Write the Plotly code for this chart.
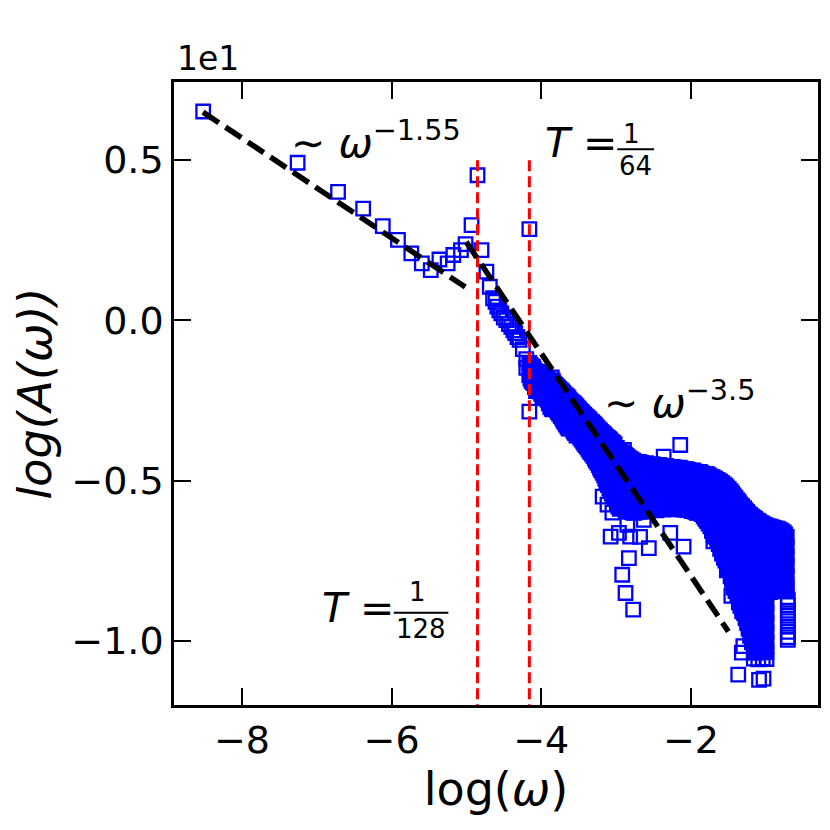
import plotly.graph_objects as go

# ---------------- data (y shown in units of 1e1) ----------------
low_x = [-8.518, -7.256, -6.716, -6.380, -6.118, -5.915, -5.737, -5.596, -5.477, -5.361,
         -5.251, -5.175, -5.073, -5.012, -4.932, -4.852, -4.799, -4.733, -4.688, -4.644,
         -4.612, -4.587, -4.561, -4.534, -4.501, -4.467, -4.432, -4.401, -4.372, -4.348,
         -4.318, -4.290, -4.246, -4.159, -4.159, -4.113]
low_y = [0.652, 0.492, 0.401, 0.349, 0.294, 0.251, 0.209, 0.178, 0.157, 0.190,
         0.178, 0.204, 0.219, 0.238, 0.297, 0.453, 0.219, 0.152, 0.105, 0.069,
         0.058, 0.043, 0.031, 0.022, 0.009, 0.001, -0.012, -0.020, -0.031, -0.040,
         -0.052, -0.061, -0.090, 0.285, -0.285, -0.145]

band_x = [-4.20, -4.16, -4.13, -4.10, -4.07, -4.04, -4.00, -3.97, -3.93, -3.90, -3.86, -3.83,
          -3.79, -3.76, -3.72, -3.69, -3.65, -3.62, -3.58, -3.55, -3.51, -3.48, -3.44, -3.41,
          -3.37, -3.34, -3.30, -3.27, -3.23, -3.20, -3.16, -3.13, -3.09, -3.06, -3.02]
band_y = [
    [-0.121, -0.148], [-0.133, -0.171], [-0.142, -0.166, -0.189], [-0.152, -0.178, -0.196],
    [-0.168, -0.205, -0.221], [-0.160, -0.187, -0.214], [-0.174, -0.198, -0.229],
    [-0.169, -0.212, -0.243], [-0.183, -0.204, -0.236], [-0.191, -0.226, -0.259],
    [-0.178, -0.214, -0.247, -0.276], [-0.197, -0.238, -0.265], [-0.206, -0.231, -0.281],
    [-0.214, -0.252, -0.292], [-0.222, -0.247, -0.276, -0.305], [-0.231, -0.268, -0.318],
    [-0.238, -0.262, -0.297, -0.332], [-0.249, -0.283, -0.321], [-0.257, -0.299, -0.341],
    [-0.263, -0.291, -0.318, -0.352], [-0.274, -0.309, -0.347], [-0.282, -0.321, -0.366],
    [-0.291, -0.318, -0.343, -0.378], [-0.299, -0.337, -0.389], [-0.306, -0.348, -0.372, -0.401],
    [-0.315, -0.359, -0.412], [-0.322, -0.351, -0.381, -0.424], [-0.331, -0.368, -0.403, -0.438],
    [-0.340, -0.379, -0.416, -0.452], [-0.348, -0.392, -0.431, -0.467],
    [-0.356, -0.384, -0.418, -0.449, -0.484], [-0.364, -0.402, -0.439, -0.472, -0.503],
    [-0.371, -0.411, -0.451, -0.489, -0.524], [-0.379, -0.423, -0.462, -0.501, -0.541],
    [-0.386, -0.419, -0.447, -0.478, -0.516, -0.556],
]

band2_x = [-4.145, -4.115, -4.085, -4.055, -4.02, -3.985, -3.95, -3.915, -3.88, -3.845, -3.81,
           -3.775, -3.74, -3.705, -3.67, -3.635, -3.60, -3.565, -3.53, -3.495, -3.46, -3.425,
           -3.39, -3.355, -3.32, -3.285, -3.25, -3.215, -3.18, -3.145, -3.11, -3.075, -3.04]
band2_y = [
    [-0.139, -0.160, -0.182], [-0.147, -0.172, -0.193], [-0.158, -0.183, -0.208],
    [-0.163, -0.194, -0.219], [-0.167, -0.193, -0.222], [-0.171, -0.205, -0.236],
    [-0.176, -0.209, -0.240], [-0.186, -0.215, -0.248], [-0.187, -0.220, -0.254, -0.270],
    [-0.188, -0.226, -0.258, -0.278], [-0.201, -0.235, -0.272], [-0.210, -0.243, -0.286],
    [-0.218, -0.250, -0.284, -0.299], [-0.226, -0.258, -0.292, -0.312],
    [-0.234, -0.265, -0.299, -0.325], [-0.243, -0.273, -0.309, -0.338],
    [-0.253, -0.291, -0.331], [-0.260, -0.295, -0.329, -0.347], [-0.268, -0.300, -0.333, -0.360],
    [-0.278, -0.315, -0.356], [-0.286, -0.320, -0.354, -0.372], [-0.295, -0.328, -0.362, -0.384],
    [-0.302, -0.342, -0.380, -0.395], [-0.310, -0.353, -0.392, -0.407],
    [-0.318, -0.355, -0.398, -0.418], [-0.326, -0.360, -0.395, -0.431],
    [-0.335, -0.373, -0.410, -0.445], [-0.344, -0.385, -0.424, -0.460],
    [-0.352, -0.388, -0.424, -0.458, -0.476], [-0.360, -0.393, -0.428, -0.461, -0.494],
    [-0.367, -0.406, -0.445, -0.480, -0.514], [-0.375, -0.417, -0.456, -0.495, -0.532],
    [-0.382, -0.421, -0.455, -0.490, -0.528, -0.549],
]

cluster_x = [-2.99, -2.95, -2.90, -2.86, -2.82, -2.77, -2.73, -2.69, -2.64, -2.60, -2.55, -2.51,
             -2.46, -2.42, -2.37, -2.33, -2.28, -2.24, -2.19, -2.15, -2.10, -2.06, -2.01, -1.97,
             -1.92, -1.88, -1.83, -1.79, -1.74, -1.70, -1.65, -1.61, -1.56, -1.52, -1.47, -1.43,
             -1.38, -1.34, -1.29, -1.25, -1.21, -1.16, -1.12, -1.07, -1.03, -0.99, -0.94, -0.90,
             -0.85, -0.81, -0.76, -0.72, -0.705]
cluster_y = [
    [-0.398, -0.426, -0.455, -0.487, -0.514, -0.549, -0.573],
    [-0.409, -0.441, -0.468, -0.495, -0.528, -0.561, -0.588],
    [-0.415, -0.437, -0.462, -0.491, -0.522, -0.547, -0.579],
    [-0.423, -0.452, -0.481, -0.508, -0.535, -0.566, -0.594],
    [-0.431, -0.458, -0.476, -0.502, -0.531, -0.557, -0.589],
    [-0.438, -0.466, -0.493, -0.519, -0.548, -0.576, -0.601],
    [-0.444, -0.471, -0.497, -0.525, -0.553, -0.584],
    [-0.442, -0.463, -0.489, -0.516, -0.542, -0.571, -0.598],
    [-0.448, -0.477, -0.503, -0.529, -0.558, -0.587],
    [-0.446, -0.469, -0.494, -0.521, -0.547, -0.574, -0.596],
    [-0.452, -0.481, -0.507, -0.533, -0.562, -0.589],
    [-0.449, -0.473, -0.498, -0.526, -0.551, -0.579],
    [-0.455, -0.484, -0.511, -0.538, -0.566, -0.593],
    [-0.451, -0.476, -0.502, -0.529, -0.554, -0.581],
    [-0.458, -0.487, -0.514, -0.541, -0.569, -0.591],
    [-0.454, -0.479, -0.505, -0.532, -0.557, -0.584],
    [-0.461, -0.489, -0.516, -0.543, -0.571, -0.589],
    [-0.457, -0.482, -0.508, -0.535, -0.561, -0.586],
    [-0.463, -0.492, -0.519, -0.546, -0.574],
    [-0.460, -0.485, -0.511, -0.538, -0.563, -0.588],
    [-0.466, -0.494, -0.522, -0.549, -0.577],
    [-0.464, -0.488, -0.514, -0.541, -0.566, -0.591],
    [-0.470, -0.497, -0.525, -0.552, -0.579],
    [-0.468, -0.491, -0.518, -0.544, -0.569, -0.594],
    [-0.476, -0.502, -0.529, -0.556, -0.583, -0.601],
    [-0.473, -0.497, -0.522, -0.548, -0.574, -0.598],
    [-0.481, -0.508, -0.535, -0.561, -0.588, -0.612],
    [-0.479, -0.503, -0.528, -0.554, -0.579, -0.604, -0.626],
    [-0.487, -0.514, -0.541, -0.567, -0.594, -0.621, -0.643],
    [-0.491, -0.517, -0.543, -0.569, -0.596, -0.622, -0.648, -0.669],
    [-0.498, -0.524, -0.551, -0.578, -0.604, -0.631, -0.657, -0.682],
    [-0.503, -0.529, -0.556, -0.582, -0.609, -0.636, -0.662, -0.689, -0.713],
    [-0.512, -0.538, -0.565, -0.591, -0.618, -0.645, -0.671, -0.698, -0.724, -0.741],
    [-0.521, -0.547, -0.574, -0.601, -0.627, -0.654, -0.681, -0.707, -0.734, -0.758],
    [-0.533, -0.561, -0.592, -0.620, -0.651, -0.679, -0.711, -0.740, -0.768, -0.799],
    [-0.546, -0.575, -0.604, -0.636, -0.664, -0.695, -0.723, -0.756, -0.786, -0.812, -0.834],
    [-0.561, -0.590, -0.621, -0.649, -0.681, -0.709, -0.741, -0.770, -0.801, -0.829, -0.857],
    [-0.574, -0.603, -0.635, -0.662, -0.694, -0.723, -0.754, -0.783, -0.815, -0.843, -0.872, -0.891],
    [-0.586, -0.616, -0.647, -0.675, -0.706, -0.737, -0.766, -0.797, -0.826, -0.857, -0.886, -0.914],
    [-0.598, -0.628, -0.659, -0.688, -0.719, -0.748, -0.779, -0.808, -0.839, -0.869, -0.898, -0.929, -0.944],
    [-0.607, -0.636, -0.668, -0.697, -0.727, -0.758, -0.787, -0.818, -0.847, -0.878, -0.907, -0.938, -0.967, -0.985],
    [-0.616, -0.646, -0.677, -0.706, -0.737, -0.766, -0.797, -0.827, -0.858, -0.887, -0.918, -0.947, -0.978, -1.008, -1.034],
    [-0.624, -0.653, -0.684, -0.714, -0.745, -0.774, -0.805, -0.834, -0.865, -0.895, -0.926, -0.955, -0.986, -1.015, -1.037],
    [-0.631, -0.661, -0.692, -0.721, -0.752, -0.782, -0.813, -0.842, -0.873, -0.902, -0.933, -0.963, -0.994, -1.023, -1.036],
    [-0.637, -0.667, -0.697, -0.727, -0.757, -0.788, -0.818, -0.848, -0.879, -0.908, -0.939, -0.969, -0.999, -1.029],
    [-0.641, -0.671, -0.702, -0.731, -0.762, -0.792, -0.823, -0.852, -0.883, -0.913, -0.944, -0.974, -1.004, -1.033],
    [-0.644, -0.674, -0.705, -0.734, -0.765, -0.795, -0.826, -0.848],
    [-0.647, -0.677, -0.708, -0.737, -0.768, -0.798, -0.829, -0.845],
    [-0.650, -0.680, -0.711, -0.740, -0.771, -0.801, -0.832, -0.842],
    [-0.655, -0.685, -0.716, -0.745, -0.776, -0.806, -0.837],
    [-0.662, -0.692, -0.723, -0.752, -0.783, -0.813, -0.840],
    [-0.676, -0.706, -0.737, -0.766, -0.797, -0.827, -0.843],
    [-0.872, -0.889, -0.906, -0.922, -0.939, -0.956, -0.972, -0.989, -0.997],
]

cluster2_x = [-2.97, -2.925, -2.88, -2.84, -2.795, -2.75, -2.71, -2.665, -2.62, -2.575, -2.53,
              -2.485, -2.44, -2.395, -2.35, -2.305, -2.26, -2.215, -2.17, -2.125, -2.08, -2.035,
              -1.99, -1.945, -1.90, -1.855, -1.81, -1.765, -1.72, -1.675, -1.63, -1.585, -1.54,
              -1.495, -1.45, -1.405, -1.36, -1.315, -1.27, -1.23, -1.185, -1.14, -1.095, -1.05,
              -1.01, -0.965, -0.92, -0.875, -0.83, -0.785, -0.74]
cluster2_y = [
    [-0.404, -0.433, -0.462, -0.492, -0.521, -0.553, -0.581],
    [-0.412, -0.440, -0.471, -0.500, -0.530, -0.562, -0.585],
    [-0.420, -0.446, -0.474, -0.503, -0.533, -0.560, -0.590],
    [-0.428, -0.456, -0.485, -0.514, -0.543, -0.572, -0.597],
    [-0.434, -0.462, -0.490, -0.517, -0.546, -0.574, -0.598],
    [-0.441, -0.468, -0.495, -0.523, -0.551, -0.579, -0.600],
    [-0.446, -0.475, -0.505, -0.533, -0.560, -0.590],
    [-0.445, -0.470, -0.497, -0.523, -0.550, -0.578, -0.597],
    [-0.449, -0.474, -0.500, -0.526, -0.553, -0.581, -0.595],
    [-0.450, -0.476, -0.502, -0.529, -0.556, -0.583, -0.594],
    [-0.451, -0.478, -0.504, -0.531, -0.558, -0.585],
    [-0.453, -0.479, -0.506, -0.532, -0.559, -0.587],
    [-0.454, -0.481, -0.507, -0.534, -0.561, -0.588],
    [-0.455, -0.482, -0.509, -0.535, -0.562, -0.589],
    [-0.457, -0.484, -0.510, -0.537, -0.564, -0.588],
    [-0.458, -0.485, -0.512, -0.538, -0.565, -0.589],
    [-0.459, -0.486, -0.513, -0.540, -0.566, -0.588],
    [-0.460, -0.488, -0.514, -0.541, -0.568, -0.589],
    [-0.462, -0.489, -0.516, -0.543, -0.569, -0.590],
    [-0.463, -0.490, -0.517, -0.544, -0.571, -0.590],
    [-0.465, -0.491, -0.518, -0.545, -0.572, -0.591],
    [-0.467, -0.493, -0.520, -0.547, -0.574, -0.592],
    [-0.469, -0.495, -0.522, -0.548, -0.575, -0.595],
    [-0.472, -0.498, -0.525, -0.551, -0.578, -0.598],
    [-0.475, -0.500, -0.526, -0.552, -0.578, -0.600],
    [-0.477, -0.503, -0.530, -0.556, -0.582, -0.605],
    [-0.480, -0.506, -0.532, -0.558, -0.585, -0.609, -0.619],
    [-0.483, -0.509, -0.535, -0.561, -0.588, -0.613, -0.634],
    [-0.489, -0.515, -0.542, -0.568, -0.595, -0.621, -0.645, -0.657],
    [-0.494, -0.521, -0.547, -0.574, -0.600, -0.627, -0.652, -0.675],
    [-0.500, -0.527, -0.553, -0.580, -0.606, -0.633, -0.659, -0.686, -0.698],
    [-0.507, -0.534, -0.560, -0.587, -0.613, -0.640, -0.666, -0.693, -0.718, -0.728],
    [-0.516, -0.543, -0.569, -0.596, -0.622, -0.649, -0.676, -0.702, -0.729, -0.750],
    [-0.527, -0.553, -0.580, -0.607, -0.633, -0.660, -0.687, -0.713, -0.740, -0.766, -0.779],
    [-0.540, -0.566, -0.593, -0.619, -0.646, -0.672, -0.699, -0.726, -0.752, -0.779, -0.805, -0.818],
    [-0.553, -0.580, -0.606, -0.633, -0.659, -0.686, -0.712, -0.739, -0.766, -0.792, -0.819, -0.845],
    [-0.567, -0.594, -0.620, -0.647, -0.673, -0.700, -0.727, -0.753, -0.780, -0.806, -0.833, -0.860, -0.880],
    [-0.580, -0.607, -0.633, -0.660, -0.686, -0.713, -0.740, -0.766, -0.793, -0.819, -0.846, -0.873, -0.899, -0.908],
    [-0.592, -0.619, -0.645, -0.672, -0.698, -0.725, -0.752, -0.778, -0.805, -0.831, -0.858, -0.885, -0.911, -0.930],
    [-0.603, -0.630, -0.656, -0.683, -0.709, -0.736, -0.763, -0.789, -0.816, -0.842, -0.869, -0.896, -0.922, -0.949, -0.962],
    [-0.612, -0.639, -0.665, -0.692, -0.718, -0.745, -0.772, -0.798, -0.825, -0.851, -0.878, -0.905, -0.931, -0.958, -0.985, -1.005],
    [-0.620, -0.647, -0.673, -0.700, -0.726, -0.753, -0.780, -0.806, -0.833, -0.859, -0.886, -0.913, -0.939, -0.966, -0.993, -1.019, -1.036],
    [-0.627, -0.654, -0.680, -0.707, -0.733, -0.760, -0.787, -0.813, -0.840, -0.866, -0.893, -0.920, -0.946, -0.973, -1.000, -1.026],
    [-0.634, -0.661, -0.687, -0.714, -0.740, -0.767, -0.794, -0.820, -0.847, -0.873, -0.900, -0.927, -0.953, -0.980, -1.007, -1.033],
    [-0.639, -0.666, -0.692, -0.719, -0.745, -0.772, -0.799, -0.825, -0.852, -0.878, -0.905, -0.932, -0.958, -0.985, -1.012, -1.035],
    [-0.643, -0.670, -0.696, -0.723, -0.749, -0.776, -0.803, -0.829, -0.847],
    [-0.646, -0.673, -0.699, -0.726, -0.752, -0.779, -0.806, -0.832, -0.846],
    [-0.649, -0.676, -0.702, -0.729, -0.755, -0.782, -0.809, -0.835, -0.843],
    [-0.652, -0.679, -0.705, -0.732, -0.758, -0.785, -0.812, -0.838],
    [-0.658, -0.685, -0.711, -0.738, -0.764, -0.791, -0.818, -0.840],
    [-0.668, -0.695, -0.721, -0.748, -0.774, -0.801, -0.828, -0.842],
]

out_x = [-2.143, -2.364, -2.895, -3.073, -2.962, -2.812, -2.680, -2.563, -2.276, -2.098,
         -2.829, -2.918, -2.874, -2.772, -1.700, -1.520, -1.460, -3.180, -3.115, -3.050,
         -2.850, -2.630, -1.320, -1.300, -1.160, -1.100, -1.040, -0.990, -1.368, -1.090, -1.030]
out_y = [-0.389, -0.425, -0.404, -0.675, -0.663, -0.675, -0.676, -0.711, -0.663, -0.706,
         -0.742, -0.794, -0.851, -0.903, -0.690, -0.780, -0.860, -0.550, -0.575, -0.600,
         -0.638, -0.623, -1.037, -1.017, -1.056, -1.058, -1.055, -1.057, -1.106, -1.122, -1.118]

# power-law guide lines
fit1_x = [-8.52, -5.016]
fit1_y = [0.650, 0.104]
fit2_x = [-5.003, -1.50]
fit2_y = [0.245, -0.971]

# period markers: log(1/128), log(1/64)
period_x = [-4.852, -4.159]
period_y = [0.5, -1.30]

# ---------------- assemble ----------------
all_x, all_y = list(low_x), list(low_y)
for xs, ys in ((band_x, band_y), (band2_x, band2_y), (cluster_x, cluster_y), (cluster2_x, cluster2_y)):
    assert len(xs) == len(ys)
    for xv, col in zip(xs, ys):
        all_x += [xv] * len(col)
        all_y += col
all_x += out_x
all_y += out_y

FONT = "DejaVu Sans"
fig = go.Figure()
fig.add_trace(go.Scatter(
    x=all_x, y=all_y, mode="markers",
    marker=dict(symbol="square-open", size=13.5, color="#0000ff",
                line=dict(width=2.3, color="#0000ff")),
    showlegend=False, hoverinfo="skip"))
for px in period_x:
    fig.add_trace(go.Scatter(x=[px, px], y=period_y, mode="lines",
                             line=dict(color="#ff0000", width=3, dash="11px,5px"),
                             showlegend=False, hoverinfo="skip"))
for fx, fy in ((fit1_x, fit1_y), (fit2_x, fit2_y)):
    fig.add_trace(go.Scatter(x=fx, y=fy, mode="lines",
                             line=dict(color="black", width=5.5, dash="19px,8px"),
                             showlegend=False, hoverinfo="skip"))

axis_common = dict(showline=True, linewidth=2.6, linecolor="black", mirror="ticks",
                   ticks="inside", ticklen=17, tickwidth=2.4, tickcolor="black",
                   showgrid=False, zeroline=False,
                   tickfont=dict(family=FONT, size=38, color="black"))

fig.update_xaxes(range=[-8.908, -0.302], tickvals=[-8, -6, -4, -2],
                 title=dict(text="log(<i>ω</i>)", font=dict(family=FONT, size=46, color="black"),
                            standoff=12),
                 **axis_common)
fig.update_yaxes(range=[-1.2005, 0.744], tick0=0, dtick=0.5, tickformat=".1f",
                 title=dict(text="<i>log(A(ω))</i>", font=dict(family=FONT, size=46, color="black"),
                            standoff=6),
                 **axis_common)

ann = []
def add_text(text, x, y, size, xanchor="left", yanchor="middle"):
    ann.append(dict(text=text, x=x, y=y, xref="x", yref="y", showarrow=False,
                    xanchor=xanchor, yanchor=yanchor,
                    font=dict(family=FONT, size=size, color="black")))

add_text("∼ <i>ω</i><sup>−1.55</sup>", -7.367, 0.562, 41)
add_text("∼ <i>ω</i><sup>−3.5</sup>", -3.184, -0.248, 41)
add_text("<i>T</i> =", -3.980, 0.553, 41)
add_text("1", -2.80, 0.581, 26, xanchor="center")
add_text("64", -2.738, 0.481, 26, xanchor="center")
add_text("<i>T</i> =", -6.958, -0.897, 41)
add_text("1", -5.66, -0.847, 26, xanchor="center")
add_text("128", -5.607, -0.964, 26, xanchor="center")
ann.append(dict(text="1e1", x=0, y=1, xref="paper", yref="paper", showarrow=False,
                xanchor="left", yanchor="bottom", xshift=1, yshift=2,
                font=dict(family=FONT, size=33, color="black")))

shapes = [
    dict(type="line", xref="x", yref="y", x0=-2.984, x1=-2.493, y0=0.534, y1=0.534,
         line=dict(color="black", width=2)),
    dict(type="line", xref="x", yref="y", x0=-5.972, x1=-5.242, y0=-0.9125, y1=-0.9125,
         line=dict(color="black", width=2)),
]

# page body has an 8px default margin, so the figure is 822 px and margins are offset by it
fig.update_layout(width=822, height=822, margin=dict(l=166, r=9, t=74, b=125),
                  plot_bgcolor="white", paper_bgcolor="white",
                  font=dict(family=FONT, color="black"),
                  annotations=ann, shapes=shapes)

fig.write_html("out.html")
